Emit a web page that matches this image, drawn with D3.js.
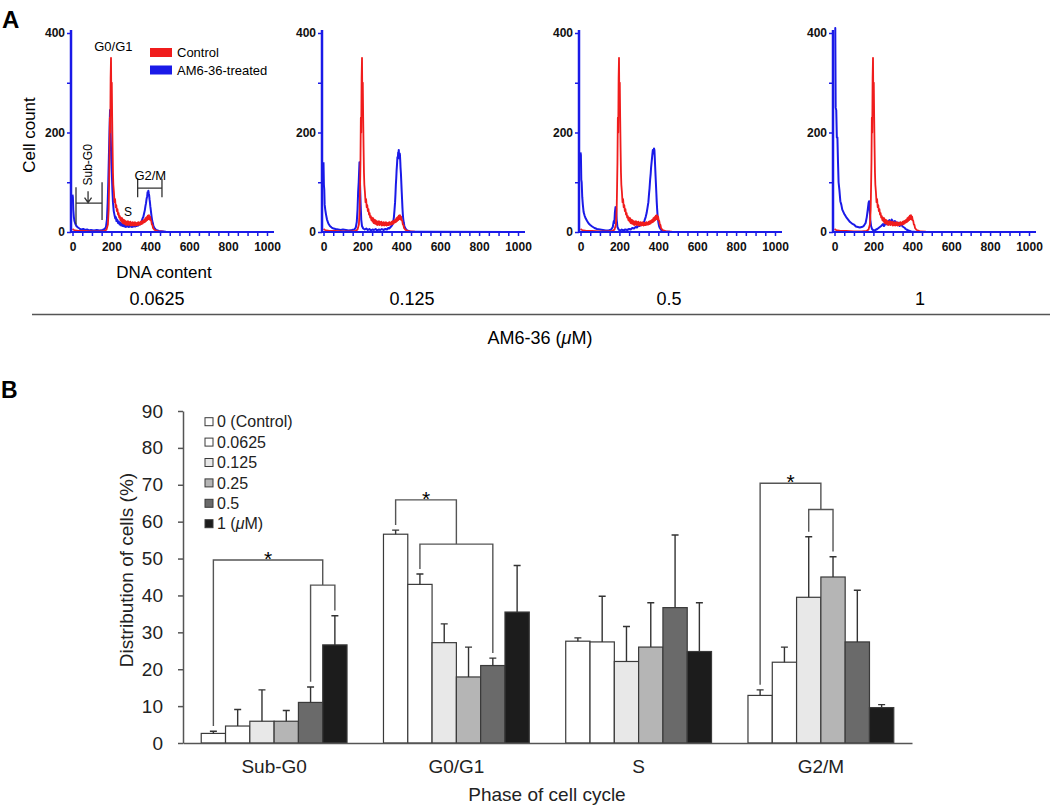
<!DOCTYPE html>
<html>
<head>
<meta charset="utf-8">
<script src="https://cdn.jsdelivr.net/npm/d3@7"></script>
<style>
  body { margin: 0; background: #fff; }
  svg { font-family: "Liberation Sans", Arial, sans-serif; }
</style>
</head>
<body>
<div id="figure"></div>
<script>
// ---- panel A data: DNA content histograms, [channel, cell count] ----
var concLabels = ['0.0625', '0.125', '0.5', '1'];
var histTicks = [0, 200, 400, 600, 800, 1000];
var histCountTicks = [0, 100, 200, 300, 400];

var controlHist = [[0,6],[4,5],[8,4],[15,3],[30,2],[60,2],[100,1],[140,1],[165,2],[175,5],[182,15],[186,45],[188,90],[190,140],[192,230],[194,200],[196,310],[198,350],[200,250],[202,300],[204,230],[206,170],[208,120],[210,95],[213,80],[216,60],[219,66],[222,50],[225,54],[228,42],[231,46],[234,35],[237,38],[240,29],[243,32],[246,24],[249,29],[252,21],[255,28],[258,18],[261,25],[264,17],[267,24],[270,16],[273,22],[276,14],[279,21],[282,15],[285,22],[288,14],[291,20],[294,15],[297,21],[300,13],[303,19],[306,14],[309,20],[312,13],[315,19],[318,14],[321,20],[324,13],[327,18],[330,14],[333,19],[336,14],[339,20],[342,15],[345,19],[348,15],[351,21],[354,16],[357,22],[360,17],[363,23],[366,19],[369,25],[372,20],[375,28],[378,22],[381,30],[384,24],[387,33],[390,26],[393,34],[396,25],[399,31],[402,24],[405,22],[408,15],[411,14],[414,8],[418,6],[422,4],[430,3],[442,1],[470,0.5],[1000,0]];

var treated0625 = [[0,75],[2,70],[4,45],[7,30],[10,22],[14,17],[20,12],[28,9],[36,7],[45,5],[55,6],[65,4],[75,5],[85,3],[95,4],[110,3],[125,4],[140,3],[155,4],[165,6],[172,10],[177,25],[181,60],[184,100],[187,150],[190,200],[193,245],[195,215],[197,185],[199,150],[202,120],[205,85],[208,60],[212,42],[217,32],[220,27],[223,30],[226,22],[230,25],[234,18],[238,21],[242,15],[246,19],[250,13],[254,17],[258,12],[262,16],[266,11],[270,15],[274,10],[278,14],[282,11],[286,14],[290,10],[294,13],[298,11],[302,14],[306,10],[310,13],[314,11],[318,14],[322,11],[326,15],[330,12],[334,16],[338,13],[342,17],[346,15],[350,19],[355,21],[360,27],[364,30],[368,37],[372,44],[375,52],[378,58],[381,67],[384,72],[386,80],[388,76],[390,83],[392,78],[394,74],[396,66],[398,60],[400,52],[402,46],[405,36],[407,30],[410,22],[413,18],[416,12],[420,9],[425,6],[430,4],[445,2],[480,0.5],[1000,0]];

var treated125 = [[0,140],[2,95],[4,85],[6,55],[9,45],[13,35],[18,25],[25,17],[33,12],[42,9],[52,7],[62,6],[75,5],[88,4],[100,5],[115,4],[130,3],[145,4],[158,5],[166,9],[171,20],[175,45],[178,80],[181,100],[185,140],[188,95],[191,55],[194,25],[198,12],[204,7],[212,5],[220,7],[228,4],[236,6],[244,3],[252,5],[260,4],[268,6],[276,3],[284,5],[292,4],[300,6],[308,4],[318,6],[326,5],[332,8],[338,7],[345,10],[350,12],[355,15],[359,22],[362,30],[365,44],[368,60],[370,76],[372,95],[374,108],[376,125],[378,136],[380,150],[382,148],[384,160],[386,158],[387,165],[389,148],[390,150],[392,158],[393,155],[395,140],[396,130],[398,118],[400,100],[402,82],[404,65],[406,48],[408,35],[410,26],[413,18],[416,12],[420,8],[425,5],[430,3],[445,1],[500,0.5],[1000,0]];

var treated05 = [[0,160],[2,155],[4,105],[6,100],[9,70],[12,55],[16,40],[21,33],[27,27],[34,22],[42,17],[50,14],[60,11],[72,8],[85,6],[100,5],[115,4],[130,3],[145,3],[158,5],[166,10],[171,22],[174,18],[177,40],[180,50],[183,48],[186,25],[190,10],[196,5],[205,3],[212,5],[220,3],[230,5],[240,4],[250,6],[258,5],[266,8],[275,7],[283,10],[290,9],[298,13],[305,12],[312,16],[320,15],[328,22],[335,30],[340,38],[345,50],[349,60],[352,75],[355,88],[358,105],[361,118],[363,130],[366,142],[368,150],[370,158],[372,165],[374,158],[376,160],[378,168],[380,165],[382,148],[384,130],[386,112],[388,95],[390,78],[392,60],[394,46],[396,35],[398,26],[401,18],[404,12],[408,8],[413,5],[418,3],[435,1],[460,0.5],[1000,0]];

var treated1 = [[0,410],[4,410],[6,250],[9,245],[12,190],[15,190],[18,140],[21,100],[25,85],[30,62],[35,55],[40,45],[46,40],[52,35],[60,30],[70,25],[80,20],[90,17],[100,15],[110,11],[120,10],[130,9],[140,10],[150,12],[160,18],[166,30],[171,45],[175,58],[178,62],[181,45],[184,25],[188,12],[193,6],[200,3],[210,4],[220,6],[230,9],[240,12],[250,16],[254,12],[258,14],[262,18],[266,20],[270,15],[274,18],[278,22],[282,24],[286,18],[290,19],[294,25],[298,23],[302,17],[306,17],[310,22],[314,21],[318,14],[322,15],[326,19],[330,18],[334,12],[338,13],[342,16],[346,15],[350,11],[354,10],[358,9],[362,8],[366,6],[370,5],[380,3],[395,1],[420,0],[1000,0]];

// ---- panel B data: % of cells per phase (rows) and dose (columns) ----
var phases = ['Sub-G0', 'G0/G1', 'S', 'G2/M'];
var doses = ['0 (Control)', '0.0625', '0.125', '0.25', '0.5', '1'];
var meanPct = [
  [2.6, 4.6, 5.9, 5.9, 11.0, 26.6],
  [56.6, 43.0, 27.2, 17.9, 21.0, 35.5],
  [27.6, 27.4, 22.1, 26.0, 36.7, 24.8],
  [12.9, 21.9, 39.5, 45.0, 27.4, 9.6]
];
var sdPct = [
  [0.6, 4.5, 8.5, 2.9, 4.2, 7.9],
  [1.1, 2.8, 5.1, 8.1, 2.0, 12.6],
  [0.9, 12.4, 9.5, 12.0, 19.7, 13.2],
  [1.5, 4.1, 16.4, 5.5, 14.0, 0.8]
];
var yTicksB = [0, 10, 20, 30, 40, 50, 60, 70, 80, 90];
// significance brackets: control vs. the pair of dose bars
var sigPhase = ['Sub-G0', 'G0/G1', 'G2/M'];
var sigFrom = [0, 0, 0];
var sigPair = [[4, 5], [1, 4], [2, 3]];
var sigOuterLevel = [49.6, 65.9, 70.4];
var sigInnerLevel = [42.8, 53.9, 63.3];

var doseFill = ['#ffffff', '#ffffff', '#e8e8e8', '#b5b5b5', '#6a6a6a', '#1c1c1c'];
var blue = '#1a1ae8', red = '#f01c1c';

var svg = d3.select('#figure').append('svg')
  .attr('width', 1050)
  .attr('height', 805);

// ================= panel A =================
svg.append('text').attr('x', 2).attr('y', 28)
  .style('font-size', '24px').style('font-weight', 'bold').text('A');

var histLeft = [71, 322, 579, 833];
var treatedSets = [treated0625, treated125, treated05, treated1];
var histY = d3.scaleLinear().domain([0, 400]).range([232, 33]);
var minorTicks = d3.range(0, 1001, 50);

histLeft.forEach(function(ax, i) {
  var x = d3.scaleLinear().domain([0, 1000]).range([ax + 1.5, ax + 196]);
  var line = d3.line().x(function(d) { return x(d[0]); }).y(function(d) { return histY(d[1]); });
  var g = svg.append('g');

  g.append('path').datum(treatedSets[i]).attr('d', line)
    .attr('fill', 'none').attr('stroke', blue).attr('stroke-width', 2).attr('stroke-linejoin', 'round');
  g.append('path').datum(controlHist).attr('d', line)
    .attr('fill', 'none').attr('stroke', red).attr('stroke-width', 1.8).attr('stroke-linejoin', 'round');

  var xa = g.append('g').attr('transform', 'translate(0,232)')
    .call(d3.axisBottom(x).tickValues(minorTicks)
      .tickFormat(function(d) { return histTicks.indexOf(d) >= 0 ? d : ''; })
      .tickSize(4).tickSizeOuter(0).tickPadding(6));
  xa.select('.domain').remove();
  xa.selectAll('line').attr('stroke', blue).attr('stroke-width', 1.5);
  xa.selectAll('text').style('font-size', '12px').style('font-weight', 'bold')
    .style('font-family', '"Liberation Sans", Arial, sans-serif').attr('fill', '#111');

  var ya = g.append('g').attr('transform', 'translate(' + ax + ',0)')
    .call(d3.axisLeft(histY).tickValues(histCountTicks)
      .tickFormat(function(d) { return d % 200 === 0 ? d : ''; })
      .tickSize(4).tickSizeOuter(0).tickPadding(2));
  ya.select('.domain').remove();
  ya.selectAll('line').attr('stroke', blue).attr('stroke-width', 1.5);
  ya.selectAll('text').style('font-size', '12px').style('font-weight', 'bold')
    .style('font-family', '"Liberation Sans", Arial, sans-serif').attr('fill', '#111');

  g.append('line').attr('x1', ax).attr('x2', ax + 203).attr('y1', 232).attr('y2', 232)
    .attr('stroke', blue).attr('stroke-width', 2.2);
  g.append('line').attr('x1', ax).attr('x2', ax).attr('y1', 233).attr('y2', 30)
    .attr('stroke', blue).attr('stroke-width', 2.5);

  svg.append('text').attr('x', [157, 412, 669, 920][i]).attr('y', 305)
    .attr('text-anchor', 'middle').style('font-size', '18px').text(concLabels[i]);

  if (i === 0) {
    // phase annotations on the first histogram
    var ann = g.append('g').attr('stroke', '#333').attr('stroke-width', 1.3).attr('fill', 'none');
    ann.append('path').attr('d', 'M' + x(18) + ',' + histY(90) + 'V' + histY(15) +
      'M' + x(18) + ',' + histY(58) + 'H' + x(152) +
      'M' + x(152) + ',' + histY(100) + 'V' + histY(24));
    ann.append('path').attr('d', 'M' + x(80) + ',' + histY(82) + 'V' + histY(59) +
      'M' + (x(80) - 3.5) + ',' + (histY(59) - 5) + 'L' + x(80) + ',' + histY(59) + 'L' + (x(80) + 3.5) + ',' + (histY(59) - 5));
    ann.append('path').attr('d', 'M' + x(335) + ',' + histY(107) + 'V' + histY(70) +
      'M' + x(335) + ',' + histY(88) + 'H' + x(460) +
      'M' + x(460) + ',' + histY(107) + 'V' + histY(70));
    g.append('text').attr('transform', 'translate(' + (x(80) + 4) + ',' + histY(135) + ') rotate(-90)')
      .attr('text-anchor', 'middle').style('font-size', '12px').text('Sub-G0');
    g.append('text').attr('x', x(400)).attr('y', histY(104)).attr('text-anchor', 'middle')
      .style('font-size', '13px').text('G2/M');
    g.append('text').attr('x', x(285)).attr('y', histY(32)).attr('text-anchor', 'middle')
      .style('font-size', '12px').text('S');
    g.append('text').attr('x', x(210)).attr('y', histY(364)).attr('text-anchor', 'middle')
      .style('font-size', '13px').text('G0/G1');

    var lg = g.append('g');
    [['Control', red], ['AM6-36-treated', blue]].forEach(function(it, k) {
      lg.append('rect').attr('x', 150).attr('y', 48 + k * 17.5).attr('width', 22).attr('height', 9).attr('fill', it[1]);
      lg.append('text').attr('x', 177).attr('y', 52.5 + k * 17.5).attr('dy', '0.35em')
        .style('font-size', '13px').text(it[0]);
    });

    svg.append('text').attr('transform', 'translate(35,135) rotate(-90)')
      .attr('text-anchor', 'middle').style('font-size', '17px').text('Cell count');
    svg.append('text').attr('x', 164).attr('y', 278).attr('text-anchor', 'middle')
      .style('font-size', '17px').text('DNA content');
  }
});

svg.append('line').attr('x1', 32).attr('x2', 1050).attr('y1', 314.5).attr('y2', 314.5)
  .attr('stroke', '#555').attr('stroke-width', 1.5);
var amLabel = svg.append('text').attr('x', 540).attr('y', 344).attr('text-anchor', 'middle').style('font-size', '18px');
amLabel.append('tspan').text('AM6-36 (');
amLabel.append('tspan').style('font-style', 'italic').text('\u03bc');
amLabel.append('tspan').text('M)');

// ================= panel B =================
svg.append('text').attr('x', 1).attr('y', 398)
  .style('font-size', '23px').style('font-weight', 'bold').text('B');

var yB = d3.scaleLinear().domain([0, 90]).range([743, 411]);
var xB = d3.scaleBand().domain(phases).range([183, 912]).paddingInner(0.2).paddingOuter(0.1);
var xDose = d3.scaleBand().domain(d3.range(doses.length)).range([0, xB.bandwidth()]);

var cells = [];
phases.forEach(function(p, i) {
  doses.forEach(function(d, j) {
    cells.push({ phase: p, dose: j, mean: meanPct[i][j], sd: sdPct[i][j] });
  });
});
function barCenter(p, j) { return xB(p) + xDose(j) + xDose.bandwidth() / 2; }
function barTop(p, j) { var i = phases.indexOf(p); return meanPct[i][j] + sdPct[i][j]; }

var bg = svg.append('g');
bg.selectAll('rect.bar').data(cells).enter().append('rect')
  .attr('class', 'bar')
  .attr('x', function(d) { return xB(d.phase) + xDose(d.dose); })
  .attr('y', function(d) { return yB(d.mean); })
  .attr('width', xDose.bandwidth())
  .attr('height', function(d) { return yB(0) - yB(d.mean); })
  .attr('fill', function(d) { return doseFill[d.dose]; })
  .attr('stroke', '#3a3a3a').attr('stroke-width', 1.2);

bg.selectAll('path.err').data(cells).enter().append('path')
  .attr('class', 'err')
  .attr('d', function(d) {
    var cx = barCenter(d.phase, d.dose);
    return 'M' + cx + ',' + yB(d.mean) + 'V' + yB(d.mean + d.sd) + 'M' + (cx - 3.5) + ',' + yB(d.mean + d.sd) + 'H' + (cx + 3.5);
  })
  .attr('fill', 'none').attr('stroke', '#333').attr('stroke-width', 1.4);

// significance brackets
var gap = 1.4;
sigPhase.forEach(function(p, k) {
  var a = sigFrom[k], b = sigPair[k][0], c = sigPair[k][1];
  var xa = barCenter(p, a), xb = barCenter(p, b), xc = barCenter(p, c), xm = (xb + xc) / 2;
  var d = 'M' + xa + ',' + yB(barTop(p, a) + gap) + 'V' + yB(sigOuterLevel[k]) + 'H' + xm + 'V' + yB(sigInnerLevel[k]) +
    'M' + xb + ',' + yB(barTop(p, b) + gap) + 'V' + yB(sigInnerLevel[k]) + 'H' + xc + 'V' + yB(barTop(p, c) + gap);
  bg.append('path').attr('d', d).attr('fill', 'none').attr('stroke', '#555').attr('stroke-width', 1.4);
  bg.append('text').attr('x', (xa + xm) / 2).attr('y', yB(sigOuterLevel[k]) + 6)
    .attr('text-anchor', 'middle').style('font-size', '21px').text('*');
});

var yAxB = svg.append('g').attr('transform', 'translate(183,0)')
  .call(d3.axisLeft(yB).tickValues(yTicksB).tickSize(5).tickSizeOuter(0).tickPadding(15));
yAxB.select('.domain').attr('stroke', '#555').attr('stroke-width', 1.5);
yAxB.selectAll('line').attr('stroke', '#555').attr('stroke-width', 1.5);
yAxB.selectAll('text').style('font-size', '19px').style('font-family', '"Liberation Sans", Arial, sans-serif').attr('fill', '#222');

var xAxB = svg.append('g').attr('transform', 'translate(0,743)')
  .call(d3.axisBottom(xB).tickSize(0).tickSizeOuter(0).tickPadding(17));
xAxB.select('.domain').attr('stroke', '#555').attr('stroke-width', 1.5);
xAxB.selectAll('text').style('font-size', '19px').style('font-family', '"Liberation Sans", Arial, sans-serif').attr('fill', '#222');

svg.append('text').attr('transform', 'translate(133,570) rotate(-90)')
  .attr('text-anchor', 'middle').style('font-size', '19px').attr('fill', '#222').text('Distribution of cells (%)');
svg.append('text').attr('x', 547).attr('y', 801)
  .attr('text-anchor', 'middle').style('font-size', '19px').attr('fill', '#222').text('Phase of cell cycle');

// legend
var legB = svg.append('g');
doses.forEach(function(d, j) {
  var cy = 421.7 + j * 20.4;
  legB.append('rect').attr('x', 205).attr('y', cy - 4).attr('width', 8).attr('height', 8)
    .attr('fill', doseFill[j]).attr('stroke', '#3a3a3a').attr('stroke-width', 1);
  var t = legB.append('text').attr('x', 217).attr('y', cy).attr('dy', '0.36em')
    .style('font-size', '16px').attr('fill', '#222');
  if (j === doses.length - 1) {
    t.append('tspan').text(d + ' (');
    t.append('tspan').style('font-style', 'italic').text('\u03bc');
    t.append('tspan').text('M)');
  } else {
    t.text(d);
  }
});
</script>
</body>
</html>
